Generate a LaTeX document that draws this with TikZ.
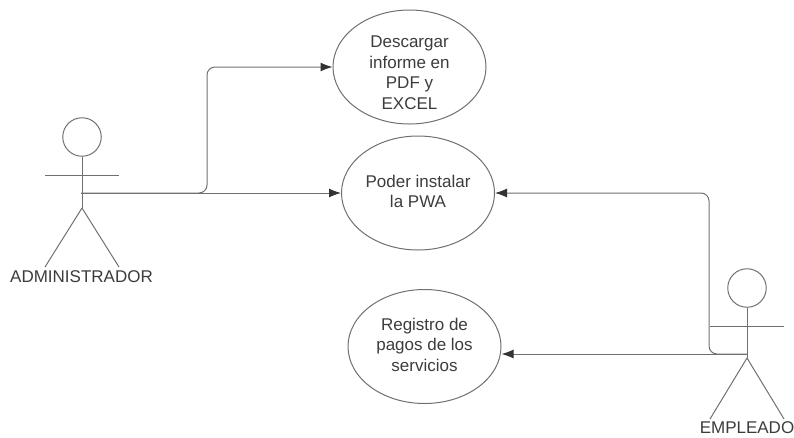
\documentclass[tikz,border=0pt]{standalone}
\usepackage{fontspec}
\setmainfont{Liberation Sans}
\usetikzlibrary{arrows.meta, shapes.geometric}

\definecolor{linegray}{HTML}{707070}
\definecolor{tipgray}{HTML}{333333}
\definecolor{textgray}{HTML}{3C3C3C}

\begin{document}
\begin{tikzpicture}
[every node/.style={inner sep=0pt},
 usecase/.style={ellipse, draw=linegray, line width=1pt, minimum width=153pt, minimum height=114pt},
 casename/.style={align=center, text=textgray, font=\fontsize{17pt}{20.5pt}\selectfont},
 head/.style={circle, draw=linegray, line width=1pt, minimum size=38.5pt},
 actorname/.style={text=textgray, font=\fontsize{17pt}{20pt}\selectfont},
 limb/.style={draw=linegray, line width=1pt},
 link/.style={draw=linegray, line width=1pt, rounded corners=8pt, -{Latex[length=12pt, width=9pt, color=tipgray]}}]
\useasboundingbox (0pt, 0pt) rectangle (794pt, -437pt);
% use cases
\node (descargar) [usecase, label={[casename, yshift=-5.5pt]center:{Descargar\\informe en\\PDF y\\EXCEL}}] at (409.5pt, -67.0pt) {};
\node (instalar) [usecase, label={[casename, yshift=1.5pt]center:{Poder instalar\\la PWA}}] at (418.0pt, -193.0pt) {};
\node (registro) [usecase, label={[casename, yshift=2.0pt]center:{Registro de\\pagos de los\\servicios}}] at (424.5pt, -346.5pt) {};
% administrador
\node (adminhead) [head] at (82.0pt, -137.0pt) {};
\coordinate (adminlarm) at (45.0pt, -175.0pt);
\coordinate (adminrarm) at (119.0pt, -175.0pt);
\coordinate (adminhip) at (82.0pt, -208.0pt);
\coordinate (adminlfoot) at (45.0pt, -267.0pt);
\coordinate (adminrfoot) at (119.0pt, -267.0pt);
\coordinate (adminport) at (81.0pt, -193.0pt);
\node (admin) [actorname] at (81.5pt, -276.5pt) {ADMINISTRADOR};
\draw [limb] (adminhead) to (adminhip);
\draw [limb] (adminlarm) to (adminrarm);
\draw [limb] (adminlfoot) to (adminhip);
\draw [limb] (adminhip) to (adminrfoot);
% empleado
\node (emplhead) [head] at (747.0pt, -288.0pt) {};
\coordinate (empllarm) at (710.0pt, -326.0pt);
\coordinate (emplrarm) at (784.0pt, -326.0pt);
\coordinate (emplhip) at (747.0pt, -358.0pt);
\coordinate (empllfoot) at (710.0pt, -419.0pt);
\coordinate (emplrfoot) at (784.0pt, -419.0pt);
\coordinate (emplport) at (747.0pt, -354.0pt);
\node (empl) [actorname] at (747.0pt, -427.5pt) {EMPLEADO};
\draw [limb] (emplhead) to (emplhip);
\draw [limb] (empllarm) to (emplrarm);
\draw [limb] (empllfoot) to (emplhip);
\draw [limb] (emplhip) to (emplrfoot);
% connectors
\draw [link] (adminport) -| (207.0pt, -67.0pt) -- (descargar);
\draw [link] (adminport) -- (instalar);
\draw [link] (emplport) -| (709.0pt, -193.0pt) -- (instalar);
\draw [link] (emplport) -- (registro.east |- emplport);
\end{tikzpicture}
\end{document}
